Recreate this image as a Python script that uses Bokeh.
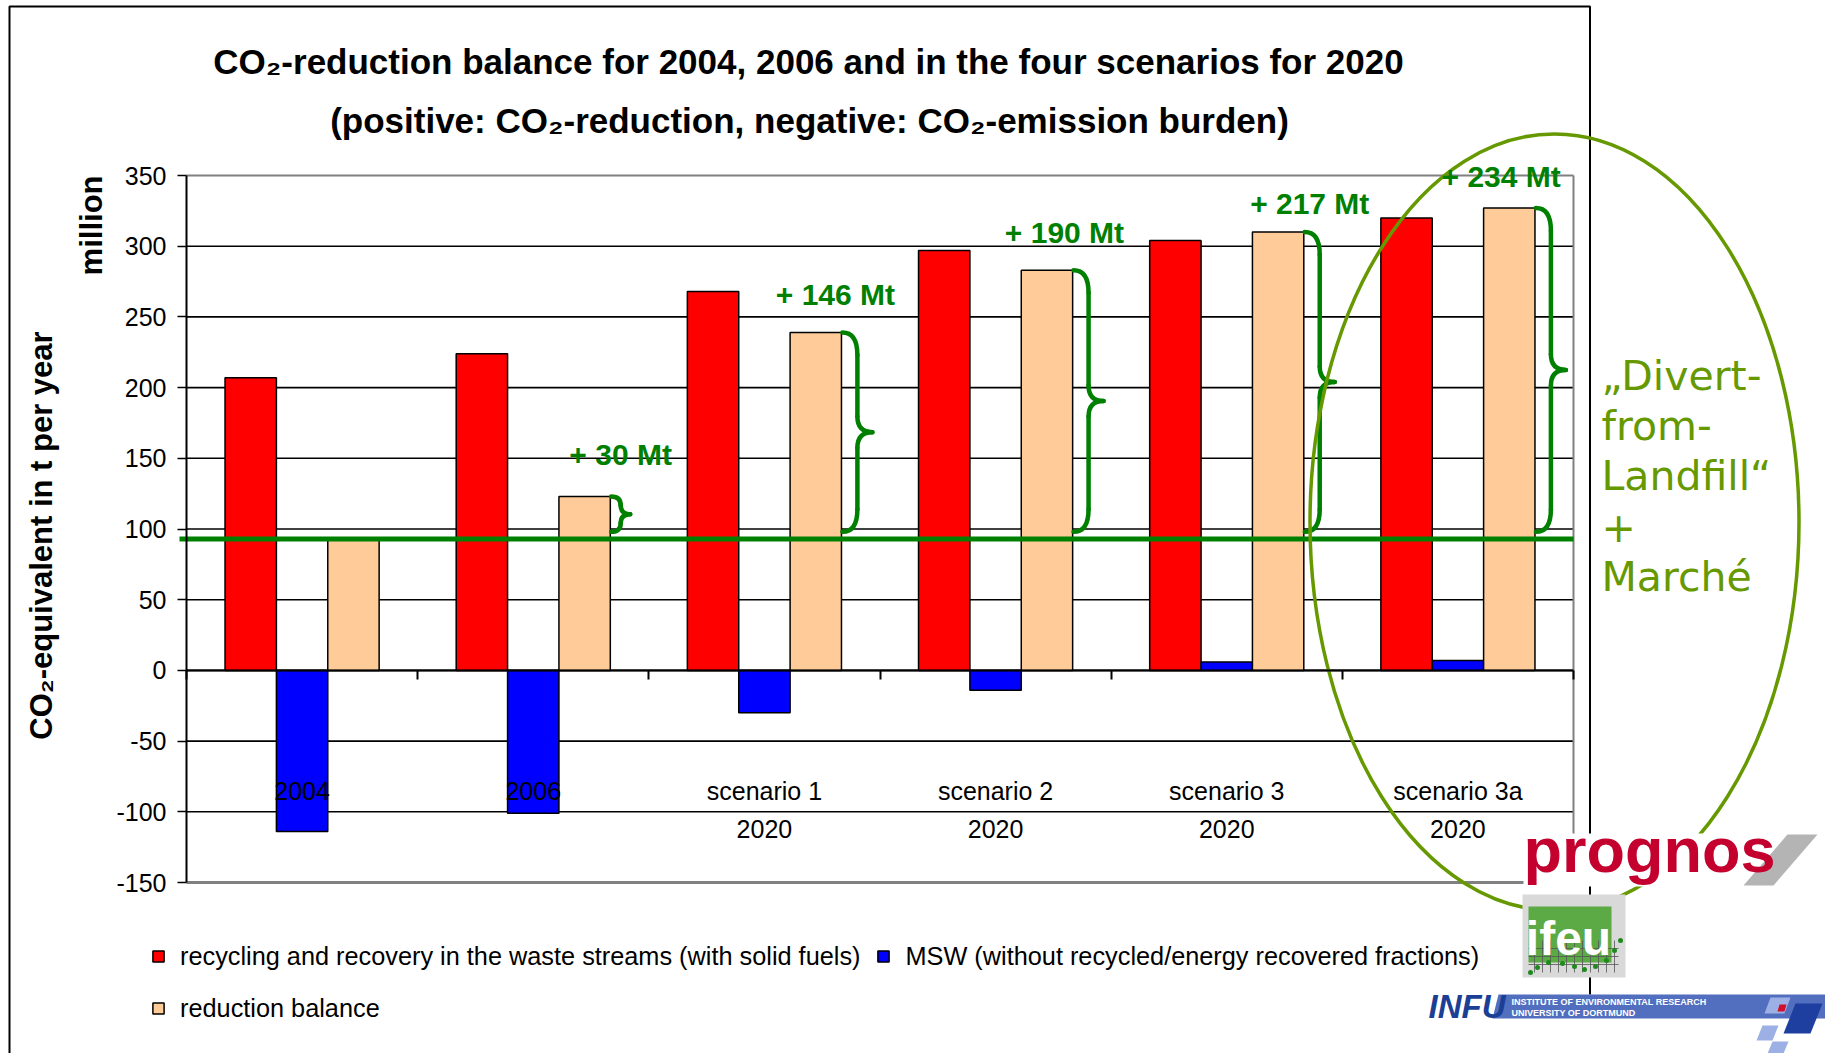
import numpy as np
from bokeh.plotting import figure
from bokeh.models import (Range1d, FixedTicker, Label, Legend, LegendItem, ColumnDataSource)
from bokeh.embed import file_html
from bokeh.resources import INLINE
from bokeh.core.properties import value

# ---------------- data ----------------
categories = ["2004", "2006", "scenario 1", "scenario 2", "scenario 3", "scenario 3a"]
category_years = ["", "", "2020", "2020", "2020", "2020"]
recycling = [207, 224, 268, 297, 304, 320]
msw = [-114, -101, -30, -14, 6, 7]
balance = [93, 123, 239, 283, 310, 327]
balance_2004 = 93
gain_labels = ["+ 30 Mt", "+ 146 Mt", "+ 190 Mt", "+ 217 Mt", "+ 234 Mt"]
y_ticks = [-150, -100, -50, 0, 50, 100, 150, 200, 250, 300, 350]
series_names = ["recycling and recovery in the waste streams (with solid fuels)",
                "MSW (without recycled/energy recovered fractions)",
                "reduction balance"]
title_lines = ["CO\u2082-reduction balance for 2004, 2006 and in the four scenarios for 2020",
               "(positive: CO\u2082-reduction, negative: CO\u2082-emission burden)"]
y_title = "CO\u2082-equivalent in t per year"
y_unit = "million"
callout_lines = ["\u201eDivert-", "from-", "Landfill\u201c", "+", "March\u00e9"]

# ---------------- layout ----------------
W, H = 1825, 1053
PAGE = 0
FL, FR, FT, FB = 186, 1573, 175, 882       # chart area on the page
Y0, Y1 = -150, 350
NCAT = len(categories)
XPX = (FR - FL) / NCAT
YPX = (FB - FT) / (Y1 - Y0)


def dx(X):
    return (X - FL) / XPX


def dy(Y):
    return Y0 + (FB - Y) / YPX


FONT = "Liberation Sans"
GREEN = "#008000"
OLIVE = "#669900"

p = figure(width=W, height=H,
           x_range=Range1d(dx(PAGE), dx(PAGE + W)), y_range=Range1d(dy(PAGE + H), dy(PAGE)),
           output_backend="svg", toolbar_location=None,
           min_border_left=0, min_border_right=0, min_border_top=0, min_border_bottom=0)
p.title.visible = False
p.background_fill_color = "white"
p.border_fill_color = "white"
p.outline_line_color = None
p.xgrid.visible = False
p.ygrid.visible = False

# value axis (left, fixed at the chart's left edge)
ax = p.yaxis[0]
ax.fixed_location = 0
ax.bounds = (Y0, Y1)
ax.ticker = FixedTicker(ticks=y_ticks)
ax.major_label_overrides = {v: str(v) for v in y_ticks}
ax.axis_line_color = "black"
ax.axis_line_width = 2
ax.major_tick_line_color = "black"
ax.major_tick_line_width = 1.6
ax.major_tick_in = 0
ax.major_tick_out = 9
ax.minor_tick_line_color = None
ax.major_label_standoff = 11
ax.major_label_text_font = FONT
ax.major_label_text_font_size = "25px"
ax.major_label_text_color = "black"

# category axis along zero, ticks between the groups
cx_ax = p.xaxis[0]
cx_ax.fixed_location = 0
cx_ax.bounds = (0, NCAT)
cx_ax.ticker = FixedTicker(ticks=list(range(NCAT + 1)))
cx_ax.major_label_overrides = {i: "" for i in range(NCAT + 1)}
cx_ax.axis_line_color = "black"
cx_ax.axis_line_width = 2
cx_ax.major_tick_line_color = "black"
cx_ax.major_tick_line_width = 2
cx_ax.major_tick_in = 0
cx_ax.major_tick_out = 9
cx_ax.minor_tick_line_color = None

# gridlines and plot-area border
inner = y_ticks[1:-1]
p.segment(x0=[0] * len(inner), y0=inner, x1=[NCAT] * len(inner), y1=inner,
          line_color="black", line_width=1.6)
p.segment(x0=[0, NCAT], y0=[Y1, Y0], x1=[NCAT, NCAT], y1=[Y1, Y1],
          line_color="#808080", line_width=2)
p.segment(x0=[0], y0=[Y0], x1=[NCAT], y1=[Y0], line_color="#808080", line_width=3)

# ---------------- bars ----------------
BW = 1 / 4.5
xc = np.arange(NCAT) + 0.5
src = ColumnDataSource(dict(x_red=xc - BW, x_blue=xc, x_peach=xc + BW,
                            red=recycling, blue=msw, peach=balance))
r_red = p.vbar(x="x_red", top="red", bottom=0, width=BW, source=src,
               fill_color="#FF0000", line_color="black", line_width=1.5)
r_blue = p.vbar(x="x_blue", top="blue", bottom=0, width=BW, source=src,
                fill_color="#0000FF", line_color="black", line_width=1.5)
r_peach = p.vbar(x="x_peach", top="peach", bottom=0, width=BW, source=src,
                 fill_color="#FFCC99", line_color="black", line_width=1.5)

# category labels inside the plot
p.text(x=xc, y=[-85] * NCAT, text=categories, text_align="center", text_baseline="middle",
       text_font=value(FONT), text_font_size=value("25px"), text_color="black")
yr_x = [x for x, t in zip(xc, category_years) if t]
yr_t = [t for t in category_years if t]
p.text(x=yr_x, y=[-112] * len(yr_x), text=yr_t, text_align="center", text_baseline="middle",
       text_font=value(FONT), text_font_size=value("25px"), text_color="black")

# green reference line (2004 balance)
p.segment(x0=[dx(FL - 7)], y0=[balance_2004], x1=[NCAT], y1=[balance_2004],
          line_color=GREEN, line_width=5)

# curly braces from the 2004 level up to each balance bar
q = dict(x0=[], y0=[], x1=[], y1=[], cx=[], cy=[])
sg = dict(x0=[], y0=[], x1=[], y1=[])
for i in range(1, NCAT):
    yt = balance[i]
    yb = balance_2004 + 5
    ym = (yt + yb) / 2
    span = yt - yb
    d = (30 if span > 60 else 19) / XPX
    r = min(16, span / 4)
    rn = min(11, span / 4)
    x0 = xc[i] + 1.5 * BW + 0.004
    xm, xp = x0 + d / 2, x0 + d
    for a in [(x0, yt, xm, yt - r, xm, yt), (xm, ym + rn, xp, ym, xm, ym),
              (xp, ym, xm, ym - rn, xm, ym), (xm, yb + r, x0, yb, xm, yb)]:
        for k, v in zip(["x0", "y0", "x1", "y1", "cx", "cy"], a):
            q[k].append(v)
    for a in [(xm, yt - r, xm, ym + rn), (xm, ym - rn, xm, yb + r)]:
        for k, v in zip(["x0", "y0", "x1", "y1"], a):
            sg[k].append(v)
p.quadratic(source=ColumnDataSource(q), x0="x0", y0="y0", x1="x1", y1="y1", cx="cx", cy="cy",
            line_color=GREEN, line_width=4.5, line_cap="round")
p.segment(source=ColumnDataSource(sg), x0="x0", y0="y0", x1="x1", y1="y1",
          line_color=GREEN, line_width=4.5, line_cap="round")


# ---------------- decorations (page-pixel positions) ----------------
def page_label(X, Y, text, size, color="black", style="normal", align="center",
               baseline="middle", font=FONT, angle=0.0):
    p.add_layout(Label(x=dx(X), y=dy(Y), text=text,
                       text_font=font, text_font_size=f"{size}px", text_font_style=style,
                       text_color=color, text_align=align, text_baseline=baseline,
                       angle=angle))


def page_patch(pts, fill):
    p.patch(x=[dx(a) for a, b in pts], y=[dy(b) for a, b in pts],
            fill_color=fill, line_color=None)


def page_line(pts, color, lw):
    p.line(x=[dx(a) for a, b in pts], y=[dy(b) for a, b in pts], line_color=color, line_width=lw)


# outer slide frame
page_line([(9, 1060), (9, 6), (1589.5, 6), (1589.5, 1060)], "black", 2)

# big ellipse
ecx, ecy, ea, eb = 1554, 521.7, 244.5, 388.3
p.ellipse(x=[dx(ecx)], y=[dy(ecy)], width=[2 * ea / XPX], height=[2 * eb / YPX],
          fill_alpha=0, line_color=OLIVE, line_width=3.5)

# prognos logo
page_patch([(1523, 833), (1825, 833), (1825, 886), (1523, 886)], "white")
page_patch([(1743, 885), (1787, 834), (1817, 834), (1773, 885)], "#B4B4B4")
# ifeu logo
page_patch([(1522, 894), (1625, 894), (1625, 977), (1522, 977)], "#D9D9D9")
page_patch([(1528, 906), (1611, 906), (1611, 962), (1528, 962)], "#5BAA45")
for gxl in range(1534, 1622, 8):
    page_line([(gxl, 940), (gxl, 972)], "#555555", 0.8)
for gyl in (948, 956, 964):
    page_line([(1528, gyl), (1618, gyl)], "#555555", 0.8)
dots_x = [1530, 1537, 1548, 1562, 1574, 1584, 1595, 1606, 1614, 1620]
dots_y = [972, 967, 962, 963, 966, 969, 966, 960, 950, 940]
p.scatter(x=[dx(a) for a in dots_x], y=[dy(b) for b in dots_y], size=5,
          fill_color="#1E8A1E", line_color=None)
# INFU logo
page_patch([(1422, 994), (1825, 994), (1825, 1053), (1422, 1053)], "white")
page_patch([(1498, 994), (1825, 994), (1825, 1018), (1492, 1018)], "#526EBE")
page_patch([(1770, 997), (1790, 997), (1784, 1013), (1764, 1013)], "#9DB0E6")
page_patch([(1779, 1004), (1786, 1004), (1784, 1011), (1777, 1011)], "#D0102A")
page_patch([(1795, 1003), (1822, 1003), (1810, 1033), (1783, 1033)], "#1F3FA0")
page_patch([(1762, 1025), (1778, 1025), (1772, 1040), (1756, 1040)], "#9DB0E6")
page_patch([(1772, 1041), (1788, 1041), (1783, 1053), (1767, 1053)], "#9DB0E6")

# gain labels (positions in data units)
gain_x = [1.878, 2.807, 3.798, 4.859, 5.687]
gain_y = [153, 266, 310, 330, 349]
for gx, gy, t in zip(gain_x, gain_y, gain_labels):
    p.add_layout(Label(x=gx, y=gy, text=t, text_font=FONT, text_font_size="30px",
                       text_font_style="bold", text_color=GREEN, text_align="center",
                       text_baseline="middle"))

# titles
page_label(808, 61, title_lines[0], 35, style="bold")
page_label(809, 120, title_lines[1], 35, style="bold")
page_label(41, 535, y_title, 31, style="bold", angle=np.pi / 2)
page_label(91, 175, y_unit, 31, style="bold", align="right", angle=np.pi / 2)

# callout text
for k, s in enumerate(callout_lines):
    page_label(1601, 375 + 50.4 * k, s, 41, color=OLIVE, align="left", font="DejaVu Sans")

# logo texts
page_label(1523, 849, "prognos", 63, color="#C4002F", style="bold", align="left")
page_label(1568, 938, "ifeu", 48, color="white", style="bold")
page_label(1428, 1006, "INFU", 33, color="#1B3F94", style="bold italic", align="left")
page_label(1511, 1001, "INSTITUTE OF ENVIRONMENTAL RESEARCH", 9, color="white",
           style="bold", align="left")
page_label(1511, 1012, "UNIVERSITY OF DORTMUND", 9, color="white", style="bold", align="left")

# legends
leg_common = dict(label_text_font=FONT, label_text_font_size="25.3px", label_text_color="black",
                  glyph_width=14, glyph_height=14, label_height=30, label_standoff=15,
                  spacing=16, padding=0, margin=0, border_line_color=None,
                  background_fill_alpha=0, orientation="horizontal")
leg1 = Legend(items=[LegendItem(label=series_names[0], renderers=[r_red]),
                     LegendItem(label=series_names[1], renderers=[r_blue])],
              location=(151 - PAGE, PAGE + H - 971), **leg_common)
leg2 = Legend(items=[LegendItem(label=series_names[2], renderers=[r_peach])],
              location=(151 - PAGE, PAGE + H - 1023), **leg_common)
p.add_layout(leg1)
p.add_layout(leg2)

open("out.html", "w").write(file_html(p, INLINE))
